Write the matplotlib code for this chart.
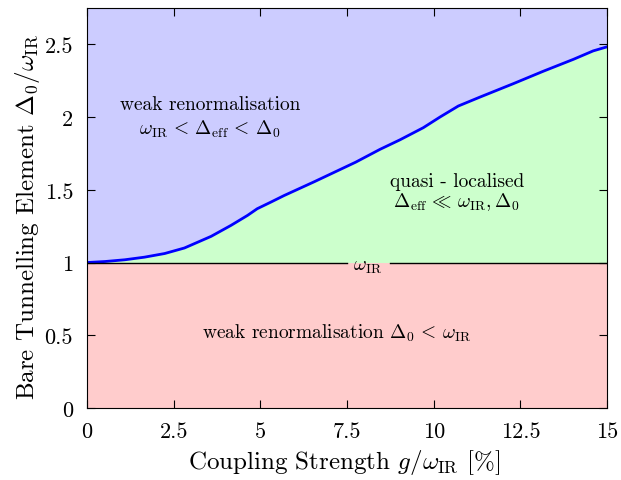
import numpy as np
import matplotlib
matplotlib.use('Agg')
import matplotlib.pyplot as plt

plt.rcParams['font.family'] = 'cmr10'
plt.rcParams['mathtext.fontset'] = 'cm'
plt.rcParams['axes.formatter.use_mathtext'] = True

# phase boundary
g_vals = [0.0, 0.52, 1.09, 1.66, 2.24, 2.81, 3.58, 4.15, 4.63, 4.91, 5.30,
          5.68, 6.56, 7.75, 8.45, 9.03, 9.70, 10.18, 10.71, 11.34, 12.30,
          13.16, 14.03, 14.6, 15.0]
delta_vals = [1.0, 1.007, 1.019, 1.037, 1.062, 1.10, 1.18, 1.255, 1.324, 1.37,
              1.415, 1.46, 1.556, 1.69, 1.778, 1.844, 1.927, 2.0, 2.076,
              2.138, 2.23, 2.315, 2.397, 2.455, 2.483]

x_ticks = [0, 2.5, 5, 7.5, 10, 12.5, 15]
x_tick_labels = ['0', '2.5', '5', '7.5', '10', '12.5', '15']
y_ticks = [0, 0.5, 1, 1.5, 2, 2.5]
y_tick_labels = ['0', '0.5', '1', '1.5', '2', '2.5']

y_top = 2.75
omega_ir = 1.0

g = np.array(g_vals)
d = np.array(delta_vals)

fig = plt.figure(figsize=(6.21, 4.81), dpi=100)
ax = fig.add_axes([0.1401, 0.1497, 0.8374, 0.8316])

ax.fill_between(g, 0, omega_ir, color='#ffcccc', lw=0)
ax.fill_between(g, omega_ir, d, color='#ccffcc', lw=0)
ax.fill_between(g, d, y_top, color='#ccccff', lw=0)
ax.plot(g, d, color='#0000ff', lw=2)

# omega_IR line, broken around its label
ax.plot([0, 7.49], [omega_ir, omega_ir], color='black', lw=1)
ax.plot([8.74, 15], [omega_ir, omega_ir], color='black', lw=1)
ax.text(8.1, 0.975, r'$\omega_{\mathrm{IR}}$', ha='center', va='center', fontsize=14)

ax.text(3.55, 2.09, 'weak renormalisation', ha='center', va='center', fontsize=14)
ax.text(3.55, 1.92, r'$\omega_{\mathrm{IR}} \,<\, \Delta_{\mathrm{eff}} \,<\, \Delta_0$',
        ha='center', va='center', fontsize=14)
ax.text(10.67, 1.56, 'quasi - localised', ha='center', va='center', fontsize=14)
ax.text(10.67, 1.42, r'$\Delta_{\mathrm{eff}} \,\ll\, \omega_{\mathrm{IR}}, \Delta_0$',
        ha='center', va='center', fontsize=14)
ax.text(7.21, 0.52, r'weak renormalisation $\Delta_0 \,<\, \omega_{\mathrm{IR}}$',
        ha='center', va='center', fontsize=14)

ax.set_xlim(0, 15)
ax.set_ylim(0, y_top)
ax.set_xticks(x_ticks)
ax.set_xticklabels(x_tick_labels)
ax.set_yticks(y_ticks)
ax.set_yticklabels(y_tick_labels)
ax.tick_params(direction='in', top=True, right=True, labelsize=16, length=6, pad=10)

ax.set_xlabel(r'Coupling Strength $g/\omega_{\mathrm{IR}}$ [%]', fontsize=18)
ax.set_ylabel(r'Bare Tunnelling Element $\Delta_0/\omega_{\mathrm{IR}}$', fontsize=18)
ax.xaxis.set_label_coords(0.495, -0.135)
ax.yaxis.set_label_coords(-0.115, 0.48)
ax.xaxis.label.set_va('center')
ax.yaxis.label.set_va('center')

fig.savefig('out.png', dpi=100)
